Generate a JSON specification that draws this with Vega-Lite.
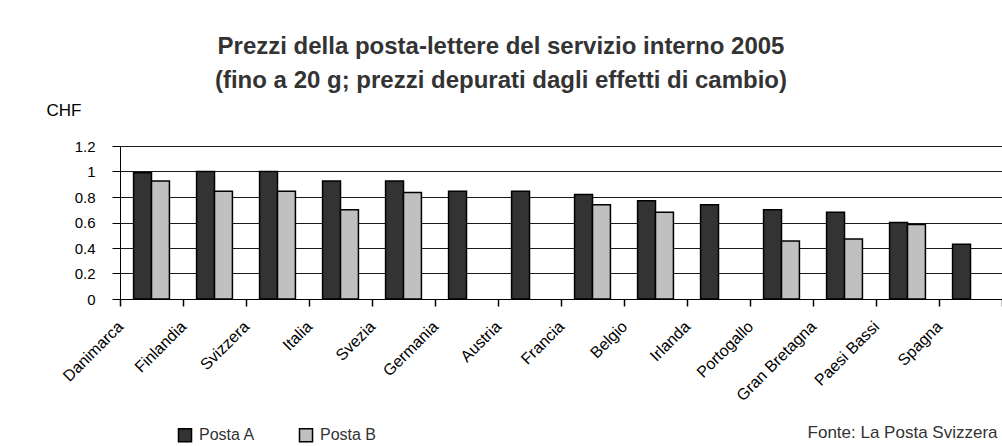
{
  "$schema": "https://vega.github.io/schema/vega-lite/v6.json",
  "width": 882,
  "height": 153,
  "autosize": {"type": "none"},
  "padding": {"left": 120, "top": 146, "right": 0, "bottom": 147},
  "background": "white",
  "title": {
    "text": ["Prezzi della posta-lettere del servizio interno 2005", "(fino a 20 g; prezzi depurati dagli effetti di cambio)"],
    "font": "Liberation Sans",
    "fontSize": 24,
    "fontWeight": "bold",
    "color": "#333333",
    "lineHeight": 34,
    "anchor": "middle",
    "frame": "group",
    "dx": -60,
    "offset": 8
  },
  "data": {
    "values": [
      {"paese": "Danimarca", "serie": "Posta A", "prezzo": 0.99},
      {"paese": "Danimarca", "serie": "Posta B", "prezzo": 0.925},
      {"paese": "Finlandia", "serie": "Posta A", "prezzo": 1.0},
      {"paese": "Finlandia", "serie": "Posta B", "prezzo": 0.845},
      {"paese": "Svizzera", "serie": "Posta A", "prezzo": 1.0},
      {"paese": "Svizzera", "serie": "Posta B", "prezzo": 0.845},
      {"paese": "Italia", "serie": "Posta A", "prezzo": 0.925},
      {"paese": "Italia", "serie": "Posta B", "prezzo": 0.70},
      {"paese": "Svezia", "serie": "Posta A", "prezzo": 0.925},
      {"paese": "Svezia", "serie": "Posta B", "prezzo": 0.835},
      {"paese": "Germania", "serie": "Posta A", "prezzo": 0.845},
      {"paese": "Austria", "serie": "Posta A", "prezzo": 0.845},
      {"paese": "Francia", "serie": "Posta A", "prezzo": 0.82},
      {"paese": "Francia", "serie": "Posta B", "prezzo": 0.74},
      {"paese": "Belgio", "serie": "Posta A", "prezzo": 0.77},
      {"paese": "Belgio", "serie": "Posta B", "prezzo": 0.68},
      {"paese": "Irlanda", "serie": "Posta A", "prezzo": 0.74},
      {"paese": "Portogallo", "serie": "Posta A", "prezzo": 0.70},
      {"paese": "Portogallo", "serie": "Posta B", "prezzo": 0.455},
      {"paese": "Gran Bretagna", "serie": "Posta A", "prezzo": 0.68},
      {"paese": "Gran Bretagna", "serie": "Posta B", "prezzo": 0.47},
      {"paese": "Paesi Bassi", "serie": "Posta A", "prezzo": 0.60},
      {"paese": "Paesi Bassi", "serie": "Posta B", "prezzo": 0.585},
      {"paese": "Spagna", "serie": "Posta A", "prezzo": 0.43}
    ]
  },
  "mark": {"type": "bar", "stroke": "#000000", "strokeWidth": 1.5},
  "encoding": {
    "x": {
      "field": "paese",
      "type": "nominal",
      "sort": null,
      "scale": {"paddingInner": 0, "paddingOuter": 0},
      "axis": {
        "title": "Fonte: La Posta Svizzera",
        "titleFont": "Liberation Sans",
        "titleFontSize": 17,
        "titleFontWeight": "normal",
        "titleColor": "#333333",
        "titleAnchor": "start",
        "titleAlign": "right",
        "titleBaseline": "alphabetic",
        "titleX": 877,
        "titleY": 138,
        "tickBand": "extent",
        "ticks": true,
        "tickOpacity": 1,
        "domain": true,
        "domainColor": "#000000",
        "domainWidth": 1,
        "tickColor": "#000000",
        "tickSize": 7,
        "tickWidth": 1.5,
        "labelAngle": -45,
        "labelAlign": "right",
        "labelBaseline": "top",
        "labelPadding": 12,
        "labelOffset": -37,
        "labelFont": "Liberation Sans",
        "labelFontSize": 16,
        "labelColor": "#000000",
        "labelOverlap": false
      }
    },
    "xOffset": {
      "field": "serie",
      "type": "nominal",
      "scale": {"paddingInner": 0, "paddingOuter": 0.757}
    },
    "y": {
      "field": "prezzo",
      "type": "quantitative",
      "scale": {"domain": [0, 1.2], "nice": false},
      "axis": {
        "values": [0, 0.2, 0.4, 0.6, 0.8, 1, 1.2],
        "format": "~g",
        "title": "CHF",
        "titleAngle": 0,
        "titleAlign": "left",
        "titleBaseline": "alphabetic",
        "titleX": -74,
        "titleY": -31,
        "titleFont": "Liberation Sans",
        "titleFontSize": 17,
        "titleFontWeight": "normal",
        "titleColor": "#000000",
        "labelFont": "Liberation Sans",
        "labelFontSize": 15,
        "labelColor": "#000000",
        "labelPadding": 17,
        "tickSize": 8,
        "tickColor": "#000000",
        "domainColor": "#000000",
        "grid": true,
        "gridColor": "#1a1a1a",
        "gridWidth": 1
      }
    },
    "fill": {
      "field": "serie",
      "type": "nominal",
      "scale": {"domain": ["Posta A", "Posta B"], "range": ["#333333", "#c0c0c0"]},
      "legend": {
        "title": null,
        "orient": "none",
        "direction": "horizontal",
        "legendX": 57,
        "legendY": 281,
        "symbolType": "square",
        "symbolSize": 170,
        "symbolStrokeColor": "#000000",
        "symbolStrokeWidth": 1.5,
        "labelFont": "Liberation Sans",
        "labelFontSize": 16,
        "labelColor": "#333333",
        "labelOffset": 6,
        "columnPadding": 40
      }
    }
  },
  "config": {
    "view": {"stroke": null},
    "axisX": {"ticks": true, "tickSize": 7}
  }
}
